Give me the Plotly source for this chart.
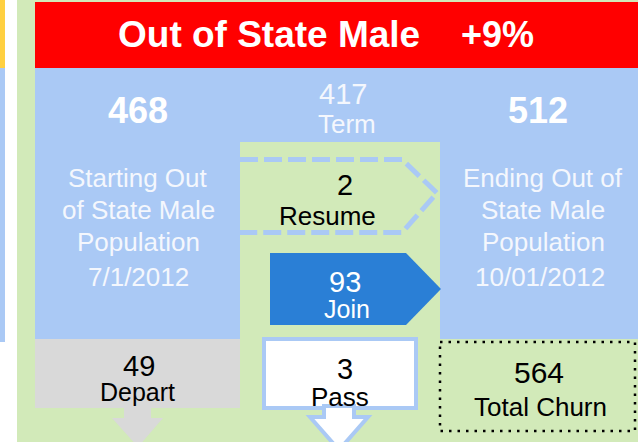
import plotly.graph_objects as go

# ---- data ----
segment_name = "Out of State Male"
start_value = 468
end_value = 512
start_label_lines = ["Starting Out", "of State Male", "Population"]
end_label_lines = ["Ending Out of", "State Male", "Population"]
start_date = "7/1/2012"
end_date = "10/01/2012"
flow_labels = ["Term", "Resume", "Join", "Depart", "Pass"]
flow_values = [417, 2, 93, 49, 3]

flows = dict(zip(flow_labels, flow_values))
pct_change = round((end_value - start_value) / start_value * 100)
pct_text = f"{'+' if pct_change >= 0 else ''}{pct_change}%"
total_churn = sum(flow_values)

# ---- styles ----
RED = "#ff0000"
BLUE = "#aac9f5"
GREEN = "#d2eab9"
GRAY = "#d9d9d9"
JOIN = "#2a7fd6"
YELLOW = "#ffd040"
LIGHT = "#f4f7fd"
FONT = "Liberation Sans, Arial, sans-serif"
W, H = 638, 442

fig = go.Figure()
fig.add_trace(go.Scatter(x=[0, W], y=[0, H], mode="markers",
                         marker=dict(opacity=0), hoverinfo="skip", showlegend=False))

shapes = []
def rect(x0, y0, x1, y1, fill, line=None, lw=0, dash=None):
    d = dict(type="rect", xref="x", yref="y", x0=x0, y0=y0, x1=x1, y1=y1,
             fillcolor=fill, layer="below")
    d["line"] = dict(width=lw, color=line or fill)
    if dash:
        d["line"]["dash"] = dash
    shapes.append(d)

def path(p, fill=None, line=None, lw=0, dash=None, layer="below"):
    d = dict(type="path", xref="x", yref="y", path=p, layer=layer)
    if fill:
        d["fillcolor"] = fill
    d["line"] = dict(width=lw, color=line or "rgba(0,0,0,0)")
    if dash:
        d["line"]["dash"] = dash
    shapes.append(d)

# left edge strips
rect(0, 0, 5, 68, YELLOW)
rect(0, 68, 5, 342, BLUE)
# green background
rect(17, 0, W, H, GREEN)
# red banner
rect(35, 2, W, 68, RED)
# blue regions
rect(35, 68, W, 339, BLUE)
rect(240, 142, 440, 340, GREEN)
# gray depart box + arrow
rect(35, 339, 240, 408, GRAY)
path("M 124 407 L 151 407 L 151 418 L 163 418 L 138 447 L 112 418 L 124 418 Z", fill=GRAY)
# resume dashed pentagon
path("M 240 159.5 L 402 159.5 L 437 193 L 402 232.5 L 240 232.5",
     line=BLUE, lw=5, dash="18px,6px")
# join pentagon
path("M 270 253 L 406 253 L 441 289 L 406 325 L 270 325 Z", fill=JOIN)
# pass box + arrow
rect(264, 339, 416, 408, "white", line=BLUE, lw=4)
path("M 324 406 L 354 406 L 354 417 L 368 417 L 339 450 L 310 417 L 324 417 Z",
     fill="white", line=BLUE, lw=4, layer="above")
# total churn dotted box
rect(440, 342, 635, 431, "rgba(0,0,0,0)", line="black", lw=2.5, dash="2.5px,6px")

ann = []
def text(x, y, t, size, color="black", bold=False):
    ann.append(dict(x=x, y=y, xref="x", yref="y", text=f"<b>{t}</b>" if bold else t,
                    showarrow=False, xanchor="center", yanchor="middle",
                    font=dict(family=FONT, size=size, color=color)))

text(268.5, 34, segment_name, 37, "white", True)
text(497, 34, pct_text, 36, "white", True)
text(138, 110, start_value, 36, "white", True)
text(538, 110, end_value, 36, "white", True)
text(343, 94, flows["Term"], 29, LIGHT)
text(347, 124, "Term", 26, LIGHT)

for i, ln in enumerate(start_label_lines):
    text(138, 177.5 + i * 32, ln, 26, LIGHT)
text(138, 277, start_date, 26, LIGHT)
for i, ln in enumerate(end_label_lines):
    text(543, 177.5 + i * 32, ln, 26, LIGHT)
text(540, 277, end_date, 26, LIGHT)

text(344.5, 185, flows["Resume"], 29)
text(327.5, 216, "Resume", 26)
text(344.5, 282, flows["Join"], 29, "white")
text(346.5, 309, "Join", 25, "white")
text(138.5, 366, flows["Depart"], 29)
text(137.5, 392, "Depart", 25)
text(344.5, 368.5, flows["Pass"], 29)
text(340, 397, "Pass", 26)
text(539, 372.5, total_churn, 30)
text(540, 406.5, "Total Churn", 26)

fig.update_layout(
    width=W, height=H, margin=dict(l=0, r=0, t=0, b=0),
    paper_bgcolor="white", plot_bgcolor="white",
    xaxis=dict(range=[0, W], visible=False, fixedrange=True),
    yaxis=dict(range=[H, 0], visible=False, fixedrange=True),
    shapes=shapes, annotations=ann, showlegend=False,
)
fig.write_html("out.html", config={"displayModeBar": False},
               post_script="document.body.style.margin='0px';document.body.style.overflow='hidden';")
